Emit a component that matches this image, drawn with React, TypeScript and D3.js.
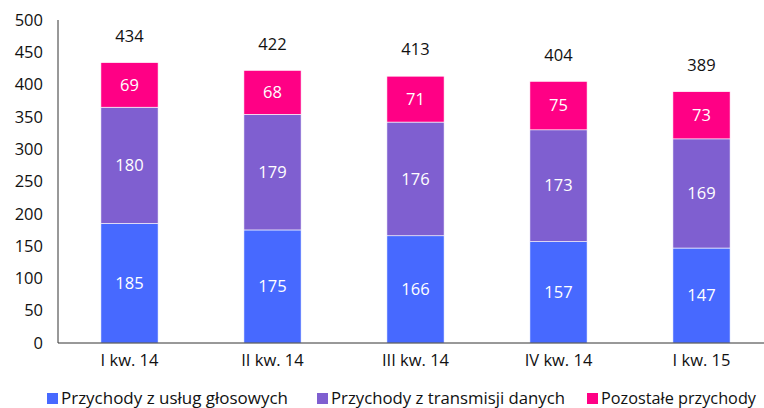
import React from "react";
import * as d3 from "d3";

const categories = ["I kw. 14", "II kw. 14", "III kw. 14", "IV kw. 14", "I kw. 15"];
const voice = [185, 175, 166, 157, 147];
const data = [180, 179, 176, 173, 169];
const other = [69, 68, 71, 75, 73];
const totals = [434, 422, 413, 404, 389];
const seriesNames = ["Przychody z usług głosowych", "Przychody z transmisji danych", "Pozostałe przychody"];
const yTicks = [0, 50, 100, 150, 200, 250, 300, 350, 400, 450, 500];

const colors = ["#4769FF", "#7F5FD0", "#FF0085"];
const font = "'Open Sans', sans-serif";
const fs = 16.5;

export default function App() {
  const W = 764, H = 408;
  const x0 = 58, yTop = 20, yBot = 343;
  const x = d3.scaleBand<string>().domain(categories).range([x0, 773]).paddingInner(0.6).paddingOuter(0.3);
  const y = d3.scaleLinear().domain([0, 500]).range([yBot, yTop]);
  const rows = categories.map((c, i) => ({ c, voice: voice[i], data: data[i], other: other[i] }));
  const stack = d3.stack<any>().keys(["voice", "data", "other"])(rows);
  const legendX = [47, 317, 587];
  const legendW = [227, 234, 155];
  return (
    <svg width={W} height={H} style={{ position: "absolute", left: 0, top: 0 }} fontFamily={font}>
      <rect width={W} height={H} fill="#fff" />
      {yTicks.map((t) => (
        <text key={t} x={43} y={y(t)} dy="0.35em" textAnchor="end" fontSize={fs} fill="#111">{t}</text>
      ))}
      {stack.map((s, si) =>
        s.map((d, i) => {
          const top = y(d[1]);
          const bot = y(d[0]);
          const val = d[1] - d[0];
          return (
            <g key={si + "-" + i}>
              <rect x={x(categories[i])} y={top} width={x.bandwidth()} height={bot - top} fill={colors[si]} stroke="#fff" strokeWidth={0.6} />
              <text x={x(categories[i])! + x.bandwidth() / 2} y={(top + bot) / 2} dy="0.35em" textAnchor="middle" fontSize={fs} fill="#fff">{val}</text>
            </g>
          );
        })
      )}
      {totals.map((t, i) => (
        <text key={i} x={x(categories[i])! + x.bandwidth() / 2} y={y(t) - 26.5} dy="0.35em" textAnchor="middle" fontSize={fs} fill="#111">{t}</text>
      ))}
      <line x1={x0} x2={W} y1={yBot} y2={yBot} stroke="#333" />
      <line x1={x0} x2={x0} y1={yTop} y2={yBot} stroke="#333" />
      {categories.map((c) => (
        <text key={c} x={x(c)! + x.bandwidth() / 2} y={360} dy="0.35em" textAnchor="middle" fontSize={fs} fill="#111">{c}</text>
      ))}
      {seriesNames.map((n, i) => (
        <g key={n}>
          <rect x={legendX[i]} y={393} width={11} height={11} fill={colors[i]} />
          <text x={legendX[i] + 14} y={398} dy="0.35em" fontSize={17} fill="#111" textLength={legendW[i]} lengthAdjust="spacingAndGlyphs">{n}</text>
        </g>
      ))}
    </svg>
  );
}
